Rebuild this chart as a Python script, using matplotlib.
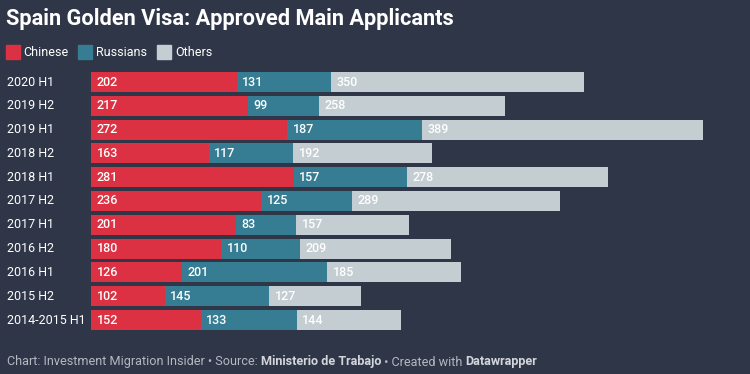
import matplotlib.pyplot as plt
from matplotlib.patches import Rectangle

# data, top row first
periods = ["2020 H1", "2019 H2", "2019 H1", "2018 H2", "2018 H1", "2017 H2",
           "2017 H1", "2016 H2", "2016 H1", "2015 H2", "2014-2015 H1"]
chinese = [202, 217, 272, 163, 281, 236, 201, 180, 126, 102, 152]
russians = [131, 99, 187, 117, 157, 125, 83, 110, 201, 145, 133]
others = [350, 258, 389, 192, 278, 289, 157, 209, 185, 127, 144]

series_names = ["Chinese", "Russians", "Others"]
colors = ["#dc3143", "#367d93", "#c4cdd1"]

BG = "#2f3647"
W, H = 750, 374

plt.rcParams['font.family'] = ['Roboto', 'DejaVu Sans']

fig = plt.figure(figsize=(W / 100, H / 100), dpi=100, facecolor=BG)


def fx(px):
    return px / W


def fy(py):
    return 1 - py / H


# bar area: x 91..703 px for 0..848, rows centred 82..320 px
ax = fig.add_axes([fx(91), fy(331.9), fx(703 - 91), (331.9 - 70.1) / H])
ax.set_facecolor(BG)
ax.set_xlim(0, 848)
ax.set_ylim(len(periods) - 0.5, -0.5)
ax.axis('off')

ypos = list(range(len(periods)))
left = [0] * len(periods)
for name, vals, col in zip(series_names, [chinese, russians, others], colors):
    ax.barh(ypos, vals, left=left, height=0.84, color=col, edgecolor='none')
    for y, l, v in zip(ypos, left, vals):
        ax.annotate(str(v), xy=(l, y), xytext=(4, 0), textcoords='offset points',
                    ha='left', va='center', color='white', fontsize=9,
                    fontweight='medium')
    left = [a + b for a, b in zip(left, vals)]

# category labels
for y, p in zip(ypos, periods):
    ax.annotate(p, xy=(0, y), xycoords=('figure fraction', 'data'),
                xytext=(7 * 0.72, 0), textcoords='offset points',
                ha='left', va='center', color='white', fontsize=9)

# title
fig.text(fx(6), fy(19), "Spain Golden Visa: Approved Main Applicants",
         color='white', fontsize=15.7, fontweight='bold', va='center', ha='left')

# legend
leg_x = [(6, 23), (78, 96), (157, 175)]
for (sx, tx), name, col in zip(leg_x, series_names, colors):
    fig.patches.append(Rectangle((fx(sx), fy(59)), fx(14), 14 / H,
                                 transform=fig.transFigure, color=col))
    fig.text(fx(tx), fy(52), name, color='white', fontsize=9, va='center', ha='left')

# footer with bold pieces
footer = [("Chart: Investment Migration Insider \u2022 Source: ", 'normal', "#b3b8c1"),
          ("Ministerio de Trabajo", 'bold', "#d2d5da"),
          (" \u2022 Created with ", 'normal', "#b3b8c1"),
          ("Datawrapper", 'bold', "#d2d5da")]
renderer = fig.canvas.get_renderer()
xcur = 7
for txt, wt, col in footer:
    t = fig.text(fx(xcur), fy(362), txt, color=col, fontsize=9.1, fontweight=wt,
                 va='center', ha='left')
    bb = t.get_window_extent(renderer=renderer)
    xcur += bb.width

fig.savefig("out.png", dpi=100, facecolor=BG)
